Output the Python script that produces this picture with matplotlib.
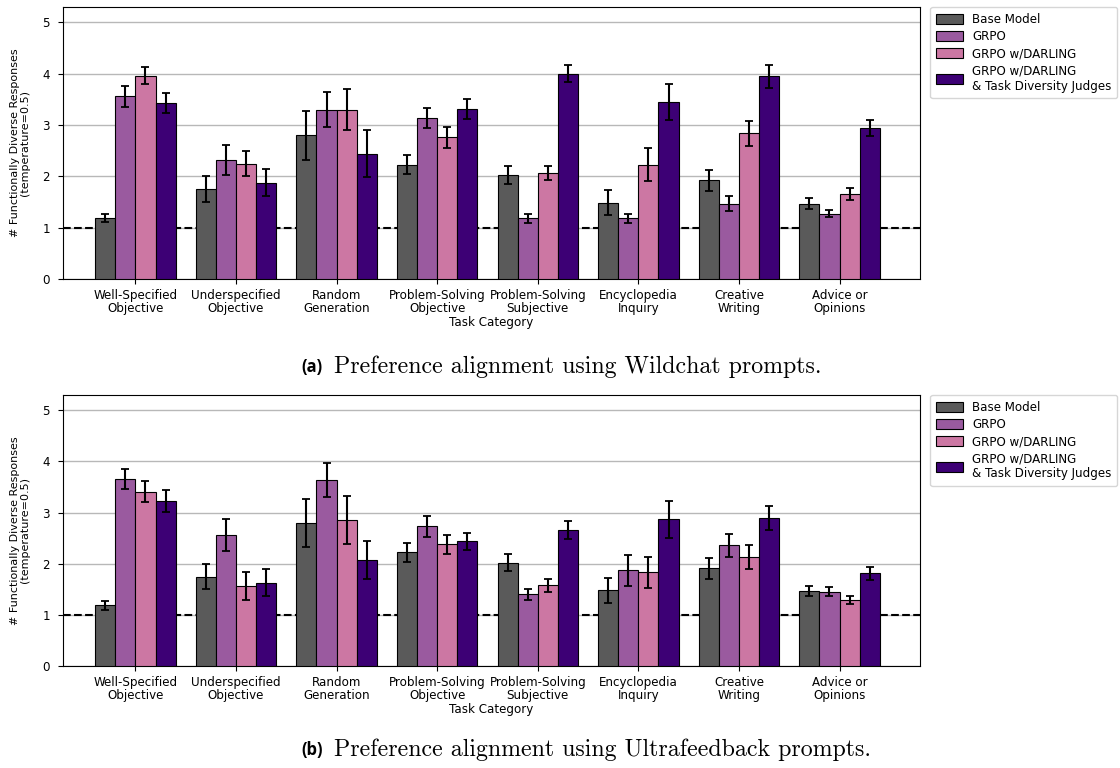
import numpy as np
import matplotlib
matplotlib.use("Agg")
import matplotlib.pyplot as plt

categories = ["Well-Specified\nObjective", "Underspecified\nObjective", "Random\nGeneration",
              "Problem-Solving\nObjective", "Problem-Solving\nSubjective", "Encyclopedia\nInquiry",
              "Creative\nWriting", "Advice or\nOpinions"]
series_names = ["Base Model", "GRPO", "GRPO w/DARLING", "GRPO w/DARLING\n& Task Diversity Judges"]
colors = ["#5a5a5a", "#9a5a9f", "#cc77a3", "#3d0075"]

# (a) Wildchat prompts
wild_base = [1.19, 1.76, 2.80, 2.23, 2.03, 1.49, 1.92, 1.47]
wild_grpo = [3.56, 2.32, 3.30, 3.14, 1.18, 1.18, 1.47, 1.27]
wild_darling = [3.96, 2.25, 3.30, 2.76, 2.07, 2.23, 2.84, 1.65]
wild_tdj = [3.43, 1.88, 2.44, 3.31, 4.00, 3.45, 3.95, 2.94]
wild_base_err = [0.08, 0.25, 0.48, 0.18, 0.17, 0.25, 0.21, 0.10]
wild_grpo_err = [0.20, 0.29, 0.34, 0.20, 0.08, 0.08, 0.15, 0.065]
wild_darling_err = [0.17, 0.25, 0.40, 0.20, 0.14, 0.33, 0.24, 0.12]
wild_tdj_err = [0.20, 0.26, 0.46, 0.20, 0.17, 0.35, 0.22, 0.16]

# (b) Ultrafeedback prompts
ultra_base = [1.19, 1.75, 2.79, 2.22, 2.02, 1.48, 1.91, 1.46]
ultra_grpo = [3.66, 2.56, 3.64, 2.73, 1.40, 1.87, 2.36, 1.45]
ultra_darling = [3.41, 1.56, 2.86, 2.38, 1.58, 1.83, 2.13, 1.29]
ultra_tdj = [3.23, 1.63, 2.07, 2.44, 2.66, 2.87, 2.89, 1.81]
ultra_base_err = [0.09, 0.25, 0.47, 0.18, 0.17, 0.24, 0.21, 0.10]
ultra_grpo_err = [0.20, 0.31, 0.33, 0.21, 0.11, 0.30, 0.23, 0.09]
ultra_darling_err = [0.21, 0.27, 0.47, 0.18, 0.13, 0.31, 0.23, 0.07]
ultra_tdj_err = [0.21, 0.27, 0.37, 0.17, 0.18, 0.36, 0.24, 0.12]

FS = 8.6


def draw_panel(ax, values, errors):
    x = np.arange(len(categories))
    width = 0.2
    for i, (vals, errs) in enumerate(zip(values, errors)):
        ax.bar(x + (i - 1.5) * width, vals, width=width, yerr=errs, color=colors[i],
               edgecolor="black", linewidth=0.8, label=series_names[i], zorder=3,
               error_kw=dict(ecolor="black", elinewidth=1.5, capsize=3, capthick=1.3, zorder=4))
    ax.axhline(1, color="black", linestyle="--", linewidth=1.5, zorder=2)
    ax.set_ylim(0, 5.3)
    ax.set_xlim(-0.72, 7.8)
    ax.set_yticks(range(6))
    ax.set_xticks(x)
    ax.set_xticklabels(categories, fontsize=FS, linespacing=1.0)
    ax.tick_params(axis="y", labelsize=FS, pad=6)
    ax.yaxis.grid(True, color="#b8b8b8", linewidth=1.0, zorder=0)
    ax.set_axisbelow(True)
    ax.set_xlabel("Task Category", fontsize=FS, labelpad=1)
    ax.set_ylabel("# Functionally Diverse Responses\n(temperature=0.5)", fontsize=8.0,
                  linespacing=1.0, labelpad=9)
    ax.legend(loc="upper left", bbox_to_anchor=(1.012, 1.0), fontsize=FS, frameon=True,
              handlelength=2.2, handleheight=0.9, labelspacing=0.35, borderpad=0.5,
              edgecolor="#cccccc", fancybox=True, borderaxespad=0)


fig = plt.figure(figsize=(11.2, 7.68), dpi=100)
ax1 = fig.add_axes([0.05625, 0.6367, 0.7652, 0.3542])
ax2 = fig.add_axes([0.05625, 0.1328, 0.7652, 0.3529])

draw_panel(ax1, [wild_base, wild_grpo, wild_darling, wild_tdj],
           [wild_base_err, wild_grpo_err, wild_darling_err, wild_tdj_err])
draw_panel(ax2, [ultra_base, ultra_grpo, ultra_darling, ultra_tdj],
           [ultra_base_err, ultra_grpo_err, ultra_darling_err, ultra_tdj_err])

# captions
fig.text(0.288, 0.522, "(a)", fontsize=12, fontweight="bold", family="Open Sans", ha="right", va="center")
fig.text(0.298, 0.522, "Preference alignment using Wildchat prompts.", fontsize=17.2, family="cmr10",
         ha="left", va="center")
fig.text(0.288, 0.0234, "(b)", fontsize=12, fontweight="bold", family="Open Sans", ha="right", va="center")
fig.text(0.298, 0.0234, "Preference alignment using Ultrafeedback prompts.", fontsize=17.2, family="cmr10",
         ha="left", va="center")

fig.savefig("out.png", dpi=100)
